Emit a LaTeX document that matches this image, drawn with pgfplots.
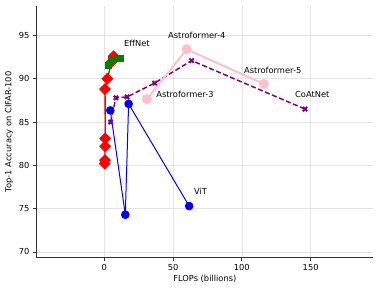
\documentclass[border=0pt]{standalone}
\usepackage{fontspec}
\setmainfont{DejaVu Sans}
\usepackage{pgfplots}
\pgfplotsset{compat=1.18}
\definecolor{mpink}{HTML}{FFC0CB}
\definecolor{mgreen}{HTML}{008000}
\definecolor{mpurple}{HTML}{800080}
\begin{document}
\begin{tikzpicture}
\useasboundingbox (0,0) rectangle (380pt,292pt);
\begin{axis}[
  at={(36pt,34.4pt)}, anchor=south west,
  scale only axis, width=337pt, height=251.6pt,
  xmin=-49.6, xmax=195.3, ymin=69.35, ymax=98.4,
  axis lines=left,
  axis line style={-, line width=1pt, black!80},
  xtick={0,50,100,150}, ytick={70,75,80,85,90,95},
  tick align=outside, major tick length=3pt,
  tick style={black!80, line width=0.8pt},
  grid=major, grid style={gray!22, line width=0.6pt},
  font=\fontsize{8.3}{10}\selectfont,
  /pgf/number format/assume math mode=true,
  xlabel={FLOPs (billions)}, ylabel={Top-1 Accuracy on CIFAR-100},
  xlabel style={at={(axis description cs:0.501,-0.085)}, anchor=center},
  ylabel style={at={(axis description cs:-0.080,0.5)}, anchor=center},
  clip=false,
]
% EfficientNet (red)
\addplot[red, line width=1.3pt, mark=square*, mark size=3.6pt, mark options={rotate=45, solid}] coordinates {
 (0.4,80.2) (0.5,80.6) (0.6,82.2) (0.7,83.1) (0.6,88.8) (2.2,90.0) (5.6,92.0) (6.8,92.6)
};
% green squares
\addplot[mgreen, line width=1pt, mark=square*, mark size=3pt] coordinates {
 (2.9,91.5) (5.0,92.1) (9.5,92.3) (11.9,92.3)
};
% ViT (blue)
\addplot[blue, line width=1pt, mark=*, mark size=3.8pt] coordinates {
 (4.4,86.35) (15.3,74.3) (17.7,87.1) (61.7,75.3)
};
% CoAtNet (purple dashed)
\addplot[mpurple, line width=1.5pt, dash pattern=on 5pt off 2.6pt, mark=+, mark size=3pt, mark options={rotate=45, solid, line width=2pt}] coordinates {
 (4.6,85.0) (8.5,87.8) (16.6,87.9) (36.6,89.5) (63.5,92.1) (145.9,86.5)
};
% Astroformer (pink)
\addplot[mpink, line width=2pt, mark=*, mark size=4pt] coordinates {
 (31.0,87.65) (59.9,93.4) (116.0,89.4)
};
\node[anchor=west, inner sep=0pt, font=\fontsize{8.3}{10}\selectfont] at (axis cs:14.3,94.08) {EffNet};
\node[anchor=west, inner sep=0pt, font=\fontsize{8.3}{10}\selectfont] at (axis cs:46.3,95.03) {Astroformer-4};
\node[anchor=west, inner sep=0pt, font=\fontsize{8.3}{10}\selectfont] at (axis cs:37.8,88.2) {Astroformer-3};
\node[anchor=west, inner sep=0pt, font=\fontsize{8.3}{10}\selectfont] at (axis cs:101.5,91.0) {Astroformer-5};
\node[anchor=west, inner sep=0pt, font=\fontsize{8.3}{10}\selectfont] at (axis cs:138.6,88.2) {CoAtNet};
\node[anchor=west, inner sep=0pt, font=\fontsize{8.3}{10}\selectfont] at (axis cs:65.2,77.04) {ViT};
\end{axis}
\end{tikzpicture}
\end{document}
